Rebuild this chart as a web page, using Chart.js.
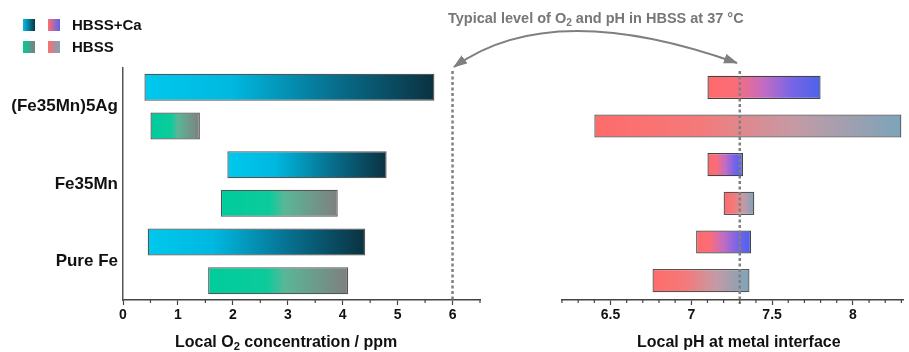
<!DOCTYPE html>
<html>
<head>
<meta charset="utf-8">
<script src="https://cdn.jsdelivr.net/npm/chart.js@4.4.1/dist/chart.umd.min.js"></script>
<style>
  body { margin: 0; width: 909px; height: 352px; position: relative; background: #fff; overflow: hidden;
         font-family: "Liberation Sans", Arial, sans-serif; }
  .box { position: absolute; top: 0; height: 352px; }
  #leftBox { left: 0; width: 490px; }
  #rightBox { left: 490px; width: 419px; }
  .sw { position: absolute; width: 12px; height: 12px; }
  .txt { position: absolute; font-weight: bold; white-space: nowrap; color: #111; }
  .sub { font-size: 0.7em; position: relative; top: 0.3em; }
  svg { position: absolute; left: 0; top: 0; pointer-events: none; }
</style>
</head>
<body>
<div id="leftBox" class="box"><canvas id="chartO2"></canvas></div>
<div id="rightBox" class="box"><canvas id="chartPh"></canvas></div>

<!-- legende -->
<span class="sw" style="left:23px;top:19px;background:linear-gradient(90deg,#00bfe6,#0a3544)"></span>
<span class="sw" style="left:48px;top:19px;background:linear-gradient(90deg,#ff6e6e,#5a64ee)"></span>
<span class="txt" style="left:72px;top:16px;font-size:15px;line-height:18px">HBSS+Ca</span>
<span class="sw" style="left:23px;top:41px;background:linear-gradient(90deg,#00cc99,#7f7f7f)"></span>
<span class="sw" style="left:48px;top:41px;background:linear-gradient(90deg,#ff6e6e,#7ba4ba)"></span>
<span class="txt" style="left:72px;top:38px;font-size:15px;line-height:18px">HBSS</span>

<!-- annotation -->
<span class="txt" style="left:448px;top:10px;font-size:14.5px;line-height:17px;color:#777">Typical level of O<span class="sub">2</span> and pH in HBSS at 37 °C</span>
<svg width="909" height="352">
  <defs>
    <marker id="head" markerUnits="userSpaceOnUse" markerWidth="14" markerHeight="10" refX="13" refY="5" orient="auto-start-reverse">
      <path d="M0,0 L14,5 L0,10 Z" fill="#7f7f7f"/>
    </marker>
  </defs>
  <path d="M 454 67 Q 551 -3 737 63" fill="none" stroke="#7f7f7f" stroke-width="2"
        marker-start="url(#head)" marker-end="url(#head)"/>
</svg>

<!-- titres d'axes -->
<span class="txt" style="left:175px;top:333px;font-size:16px;line-height:18px">Local O<span class="sub">2</span> concentration / ppm</span>
<span class="txt" style="left:637px;top:333px;font-size:16px;line-height:18px">Local pH at metal interface</span>

<script>
const categories = ['(Fe35Mn)5Ag', 'Fe35Mn', 'Pure Fe'];

// [debut, fin] de chaque barre flottante
const o2Ca   = [[0.39, 5.67], [1.90, 4.80], [0.45, 4.41]];
const o2Hbss = [[0.50, 1.40], [1.78, 3.91], [1.55, 4.10]];
const phCa   = [[7.10, 7.80], [7.10, 7.32], [7.03, 7.37]];
const phHbss = [[6.40, 8.30], [7.20, 7.39], [6.76, 7.36]];

const o2Ticks = [0, 1, 2, 3, 4, 5, 6];
const phTicks = [6.5, 7, 7.5, 8];
const o2Ref = 6;
const phRef = 7.3;

const FONT = '"Liberation Sans", Arial, sans-serif';

// degrade horizontal calcule sur l'etendue de la barre
function barGradient(stops) {
  return (c) => {
    const chart = c.chart;
    const v = c.raw;
    if (!chart.chartArea || !Array.isArray(v)) return stops[0][1];
    const x = chart.scales.x;
    const g = chart.ctx.createLinearGradient(x.getPixelForValue(v[0]), 0, x.getPixelForValue(v[1]), 0);
    stops.forEach(([o, col]) => g.addColorStop(o, col));
    return g;
  };
}

const cyanStops  = [[0, '#00c8ee'], [0.3, '#00b8e0'], [0.65, '#07708f'], [1, '#0b3140']];
const greenStops = [[0, '#00cc9c'], [0.42, '#0ccb9b'], [0.55, '#5ab697'], [1, '#7f7f7f']];
const blueStops  = [[0, '#ff6a6a'], [0.25, '#fa6d78'], [0.5, '#c26cc5'], [0.75, '#7864e6'], [1, '#4a63ea']];
const greyStops  = [[0, '#ff6b6b'], [0.35, '#f47a7a'], [0.65, '#c59aa5'], [1, '#7ba4ba']];

// ligne pointillee de reference + petites graduations
const axisExtras = {
  id: 'axisExtras',
  afterDatasetsDraw(chart, args, opts) {
    const { ctx, chartArea, scales: { x } } = chart;
    ctx.save();
    const rx = x.getPixelForValue(opts.ref);
    ctx.strokeStyle = '#808080';
    ctx.lineWidth = 2.5;
    ctx.setLineDash([3, 2.5]);
    ctx.beginPath();
    ctx.moveTo(rx, chartArea.top + 3);
    ctx.lineTo(rx, chartArea.bottom + opts.refBelow);
    ctx.stroke();

    ctx.setLineDash([]);
    ctx.strokeStyle = '#444';
    ctx.lineWidth = 1.2;
    const step = opts.minor;
    for (let i = Math.ceil(x.min / step - 1e-6); i * step <= x.max + 1e-6; i++) {
      const v = i * step;
      if (Math.abs(v / opts.major - Math.round(v / opts.major)) < 1e-6) continue;
      const px = x.getPixelForValue(v);
      ctx.beginPath();
      ctx.moveTo(px, chartArea.bottom);
      ctx.lineTo(px, chartArea.bottom + 3);
      ctx.stroke();
    }
    ctx.restore();
  }
};

function xScale(min, max, ticks) {
  return {
    type: 'linear',
    min: min,
    max: max,
    afterBuildTicks: (s) => { s.ticks = ticks.map((v) => ({ value: v })); },
    afterFit: (s) => { s.height = 52; },
    grid: { drawOnChartArea: false, tickLength: 5, tickColor: '#444', tickWidth: 1.2 },
    border: { color: '#444', width: 1.5 },
    ticks: {
      padding: 2, color: '#111', font: { size: 14, weight: 'bold', family: FONT },
      callback: (v) => String(v)
    }
  };
}

new Chart(document.getElementById('chartO2'), {
  type: 'bar',
  data: {
    labels: categories,
    datasets: [
      { label: 'HBSS+Ca', data: o2Ca, backgroundColor: barGradient(cyanStops),
        borderColor: '#555', borderWidth: 1.3, borderSkipped: false },
      { label: 'HBSS', data: o2Hbss, backgroundColor: barGradient(greenStops),
        borderColor: '#555', borderWidth: 1.3, borderSkipped: false }
    ]
  },
  options: {
    indexAxis: 'y',
    responsive: true,
    maintainAspectRatio: false,
    animation: false,
    categoryPercentage: 1,
    barPercentage: 0.7,
    layout: { padding: { top: 68, right: 10, left: 0, bottom: 0 } },
    scales: {
      x: xScale(0, 6.5, o2Ticks),
      y: {
        afterFit: (s) => { s.width = 123; },
        grid: { drawOnChartArea: false, drawTicks: false },
        border: { color: '#555', width: 1.5 },
        ticks: { padding: 5, color: '#111', font: { size: 17, weight: 'bold', family: FONT } }
      }
    },
    plugins: {
      legend: { display: false },
      tooltip: { enabled: false },
      axisExtras: { ref: o2Ref, refBelow: 0, minor: 0.5, major: 1 }
    }
  },
  plugins: [axisExtras]
});

new Chart(document.getElementById('chartPh'), {
  type: 'bar',
  data: {
    labels: categories,
    datasets: [
      { label: 'HBSS+Ca', data: phCa, backgroundColor: barGradient(blueStops),
        borderColor: '#444', borderWidth: 1.3, borderSkipped: false },
      { label: 'HBSS', data: phHbss, backgroundColor: barGradient(greyStops),
        borderColor: '#555', borderWidth: 1.3, borderSkipped: false }
    ]
  },
  options: {
    indexAxis: 'y',
    responsive: true,
    maintainAspectRatio: false,
    animation: false,
    categoryPercentage: 1,
    barPercentage: 0.6,
    layout: { padding: { top: 68, right: 6, left: 72, bottom: 0 } },
    scales: {
      x: xScale(6.2, 8.31, phTicks),
      y: { display: false }
    },
    plugins: {
      legend: { display: false },
      tooltip: { enabled: false },
      axisExtras: { ref: phRef, refBelow: 4, minor: 0.1, major: 0.5 }
    }
  },
  plugins: [axisExtras]
});
</script>
</body>
</html>
